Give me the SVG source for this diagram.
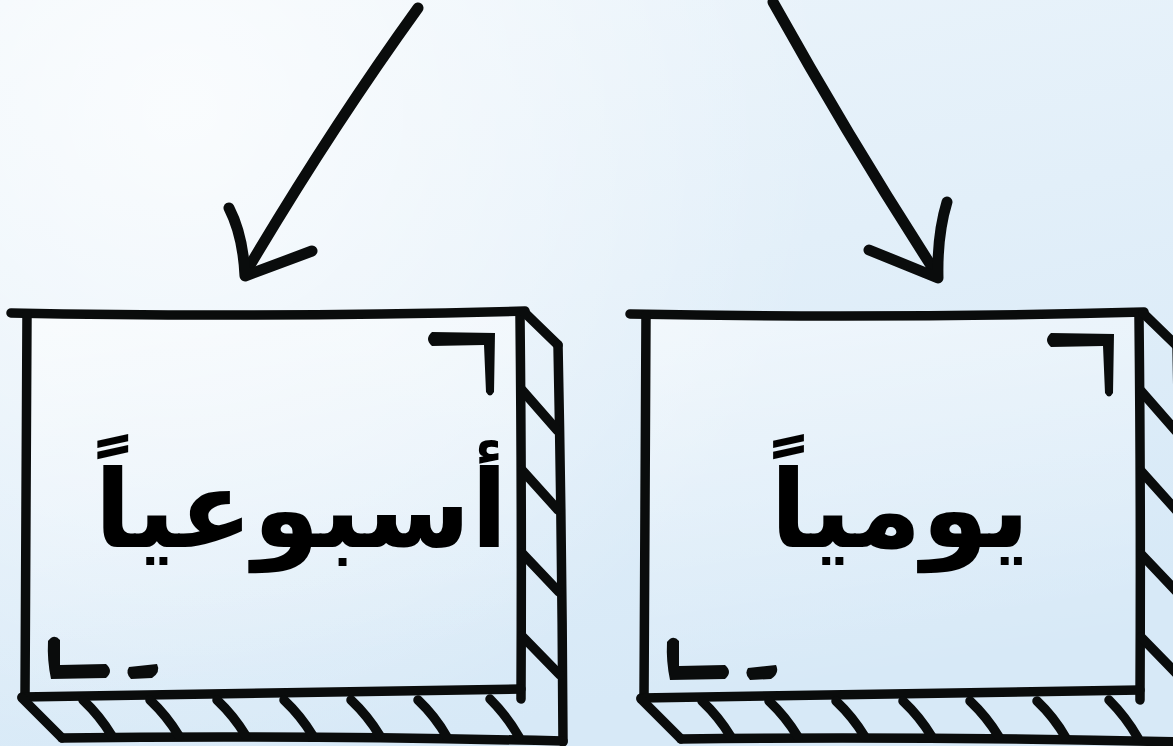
<svg xmlns="http://www.w3.org/2000/svg" width="1173" height="746" viewBox="0 0 1173 746">
  <defs>
    <linearGradient id="bg" x1="0" y1="0" x2="0.35" y2="1">
      <stop offset="0" stop-color="#edf5fb"/>
      <stop offset="1" stop-color="#d7e9f7"/>
    </linearGradient>
    <radialGradient id="glow" cx="180" cy="110" r="650" gradientUnits="userSpaceOnUse">
      <stop offset="0" stop-color="#ffffff" stop-opacity="0.75"/>
      <stop offset="0.55" stop-color="#ffffff" stop-opacity="0.35"/>
      <stop offset="1" stop-color="#ffffff" stop-opacity="0"/>
    </radialGradient>
    <linearGradient id="face" x1="0" y1="0" x2="0.2" y2="1">
      <stop offset="0" stop-color="#ffffff" stop-opacity="0.5"/>
      <stop offset="1" stop-color="#ffffff" stop-opacity="0"/>
    </linearGradient>
    <style>
      .ln { fill: none; stroke: #0a0c0c; stroke-width: 9.5; stroke-linecap: round; stroke-linejoin: round; }
      .ar { fill: none; stroke: #0a0c0c; stroke-width: 11; stroke-linecap: round; stroke-linejoin: round; }
      .ink { fill: #0a0c0c; }
      .lbl { font-family: "DejaVu Sans", sans-serif; font-weight: bold; font-size: 108px; fill: #000000; text-anchor: middle; }
    </style>
    <g id="box">
      <path d="M27,315 L520,315 L520,695 L25,697 Z" fill="url(#face)"/>
      <path class="ln" d="M11,313 Q260,318 525,311"/>
      <path class="ln" d="M27,314 Q26,500 25,698"/>
      <path class="ln" d="M520,316 Q522,500 521,699"/>
      <path class="ln" d="M22,697 Q270,694 521,689"/>
      <path class="ln" d="M524,312 L558,345"/>
      <path class="ln" d="M558,345 Q562,540 563,742"/>
      <path class="ln" d="M522,390 L557,430"/>
      <path class="ln" d="M522,470 L558,510"/>
      <path class="ln" d="M522,553 L559,592"/>
      <path class="ln" d="M522,636 L560,675"/>
      <path class="ln" d="M22,698 L62,738"/>
      <path class="ln" d="M62,738 Q300,735 563,741"/>
      <path class="ln" d="M83,700 Q100,716 112,736"/>
      <path class="ln" d="M150,700 Q167,716 179,736"/>
      <path class="ln" d="M217,700 Q234,716 246,736"/>
      <path class="ln" d="M284,700 Q301,716 313,736"/>
      <path class="ln" d="M351,700 Q368,716 380,736"/>
      <path class="ln" d="M418,700 Q435,716 447,737"/>
      <path class="ln" d="M490,699 Q507,716 519,737"/>
      <path class="ink" d="M432,332 L495,333 L494,392 Q490,399 486,392 L484,345 L432,346 Q424,339 432,332 Z"/>
      <path class="ink" d="M48,641 Q54,633 60,640 L60,665 L106,664 Q114,671 106,678 L51,679 Q47,660 48,641 Z"/>
      <path class="ink" d="M129,667 L157,664 Q161,672 152,678 L131,679 Q125,673 129,667 Z"/>
    </g>
  </defs>

  <rect width="1173" height="746" fill="url(#bg)"/>
  <rect width="1173" height="746" fill="url(#glow)"/>

  <g id="connectors">
    <path class="ar" d="M418,8 Q330,130 246,272"/>
    <path class="ar" d="M229,208 Q243,235 245,276 L312,251"/>
    <path class="ar" d="M773,2 Q850,140 934,270"/>
    <path class="ar" d="M947,202 Q937,235 938,278 L869,250"/>
  </g>

  <g id="node-weekly">
    <use href="#box"/>
    <text class="lbl" x="301" y="547">أسبوعياً</text>
  </g>

  <g id="node-daily">
    <use href="#box" transform="translate(619,1)"/>
    <text class="lbl" x="900" y="547">يومياً</text>
  </g>
</svg>
